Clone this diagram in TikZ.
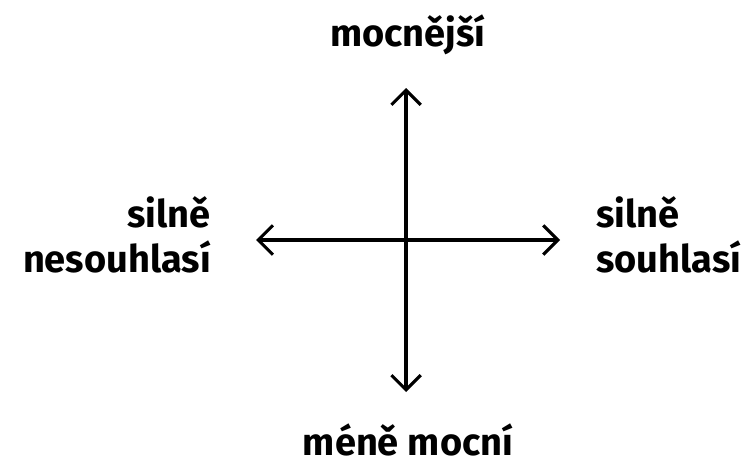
\documentclass[tikz,border=0pt]{standalone}
\usepackage{fontspec}
\setmainfont{Fira Sans}
\usetikzlibrary{arrows.meta}
\begin{document}
\begin{tikzpicture}[x=0.75pt,y=-0.75pt,
  axis/.style={line width=2.3pt,-{Straight Barb[length=11pt,width=22pt,line width=2.3pt]}},
  label/.style={inner sep=0pt,font=\fontsize{28.5}{33.75}\selectfont\bfseries}]
  \useasboundingbox (0,0) rectangle (753,464);
  % crossing point and the four arrow ends
  \coordinate (o) at (406,240);
  \coordinate (up) at (406,88);
  \coordinate (down) at (406,392);
  \coordinate (left) at (256,240);
  \coordinate (right) at (560,240);
  \draw[axis] (o) -- (up);
  \draw[axis] (o) -- (down);
  \draw[axis] (o) -- (left);
  \draw[axis] (o) -- (right);
  % labels at the ends of the axes
  \node[label,anchor=base] (top) at (408,46) {mocnější};
  \node[label,anchor=base,text depth=0pt] (bottom) at (408,455) {méně mocní};
  \node[label,align=right,anchor=base east] (west) at (211,272) {silně\\nesouhlasí};
  \node[label,align=left,anchor=base west] (east) at (596,272) {silně\\souhlasí};
\end{tikzpicture}
\end{document}
